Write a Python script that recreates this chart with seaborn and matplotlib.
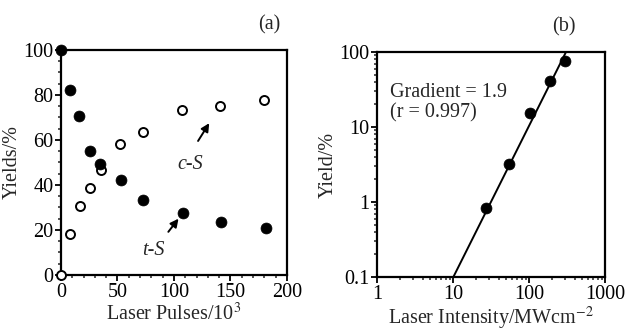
import matplotlib
matplotlib.use("Agg")
import matplotlib.pyplot as plt
import seaborn as sns
import numpy as np
import pandas as pd
from matplotlib.ticker import MultipleLocator, LogLocator, NullFormatter, FixedLocator, FixedFormatter

# Panel (a) data
t_pulses = [0, 8, 16, 25.5, 34.5, 53, 73, 108, 142, 181]
t_yield = [100, 82.3, 70.6, 55.3, 49.3, 42.1, 33.2, 27.7, 23.4, 20.8]
c_pulses = [0, 8, 17, 25.5, 35, 52.5, 72.5, 107, 141, 180]
c_yield = [0, 18.1, 30.7, 38.6, 46.6, 58.2, 63.4, 73.3, 75.2, 77.7]

# Panel (b) data
intensity = [27, 54, 103, 190, 298]
yield_b = [0.83, 3.24, 15.4, 41, 76.6]
fit_x = [10.1, 307]
fit_y = [0.1, 100]

FS = 14.5

sns.set_style("ticks")
plt.rcParams['font.family'] = ['Liberation Serif', 'DejaVu Serif']
plt.rcParams['mathtext.fontset'] = 'stix'

fig = plt.figure(figsize=(6.27, 3.31), dpi=100)
ax1 = fig.add_axes([0.0973, 0.1692, 0.3604, 0.680])
ax2 = fig.add_axes([0.6013, 0.163, 0.3636, 0.680])

for ax in (ax1, ax2):
    for s in ax.spines.values():
        s.set_linewidth(1.6)
        s.set_color('black')
        s.set_visible(True)
    ax.tick_params(which='major', direction='out', length=4, width=1.3, labelsize=FS, colors='black', pad=1.5)
    ax.tick_params(which='minor', direction='out', length=2.5, width=1.1)

# Panel (a)
dfa_t = pd.DataFrame({"x": t_pulses, "y": t_yield})
dfa_c = pd.DataFrame({"x": c_pulses, "y": c_yield})
sns.scatterplot(data=dfa_c, x="x", y="y", ax=ax1, marker='o', s=42,
                facecolor='white', edgecolor='black', linewidth=1.4, zorder=3, clip_on=False)
sns.scatterplot(data=dfa_t, x="x", y="y", ax=ax1, marker='o', s=62,
                color='black', edgecolor='black', linewidth=0.5, zorder=4, clip_on=False)
ax1.set_xlim(0, 200)
ax1.set_ylim(0, 100)
ax1.xaxis.set_major_locator(MultipleLocator(50))
ax1.xaxis.set_minor_locator(MultipleLocator(10))
ax1.yaxis.set_major_locator(MultipleLocator(20))
ax1.yaxis.set_minor_locator(MultipleLocator(5))
ax1.set_xlabel("Laser Pulses/10$^3$", fontsize=FS, labelpad=1)
ax1.set_ylabel("Yields/%", fontsize=FS, labelpad=1)
ax1.text(0.92, 1.07, "(a)", transform=ax1.transAxes, ha='center', va='bottom', fontsize=FS)
ax1.annotate("", xy=(132.5, 68.5), xytext=(120, 58.5),
             arrowprops=dict(arrowstyle='-|>', color='black', lw=1.4, mutation_scale=12))
ax1.text(114, 49, "c-S", ha='center', va='center', fontsize=FS, fontstyle='italic')
ax1.annotate("", xy=(105.5, 26), xytext=(93.5, 18.2),
             arrowprops=dict(arrowstyle='-|>', color='black', lw=1.4, mutation_scale=12))
ax1.text(82, 10.7, "t-S", ha='center', va='center', fontsize=FS, fontstyle='italic')

# Panel (b)
dfb = pd.DataFrame({"x": intensity, "y": yield_b})
dff = pd.DataFrame({"x": fit_x, "y": fit_y})
sns.lineplot(data=dff, x="x", y="y", ax=ax2, color='black', lw=1.4)
sns.scatterplot(data=dfb, x="x", y="y", ax=ax2, marker='o', s=62,
                color='black', edgecolor='black', linewidth=0.5, zorder=4)
ax2.set_xscale('log')
ax2.set_yscale('log')
ax2.set_xlim(1, 1000)
ax2.set_ylim(0.1, 100)
ax2.xaxis.set_major_locator(FixedLocator([1, 10, 100, 1000]))
ax2.xaxis.set_major_formatter(FixedFormatter(["1", "10", "100", "1000"]))
ax2.xaxis.set_minor_locator(LogLocator(base=10, subs=np.arange(2, 10)))
ax2.xaxis.set_minor_formatter(NullFormatter())
ax2.yaxis.set_major_locator(FixedLocator([0.1, 1, 10, 100]))
ax2.yaxis.set_major_formatter(FixedFormatter(["0.1", "1", "10", "100"]))
ax2.yaxis.set_minor_locator(LogLocator(base=10, subs=np.arange(2, 10)))
ax2.yaxis.set_minor_formatter(NullFormatter())
ax2.set_xlabel("Laser Intensity/MWcm$^{-2}$", fontsize=FS, labelpad=1)
ax2.set_ylabel("Yield/%", fontsize=FS, labelpad=1)
ax2.text(0.82, 1.07, "(b)", transform=ax2.transAxes, ha='center', va='bottom', fontsize=FS)
ax2.text(0.055, 0.775, "Gradient = 1.9\n(r = 0.997)", transform=ax2.transAxes,
         ha='left', va='center', fontsize=FS, linespacing=1.05)

fig.savefig("out.png", dpi=100)
